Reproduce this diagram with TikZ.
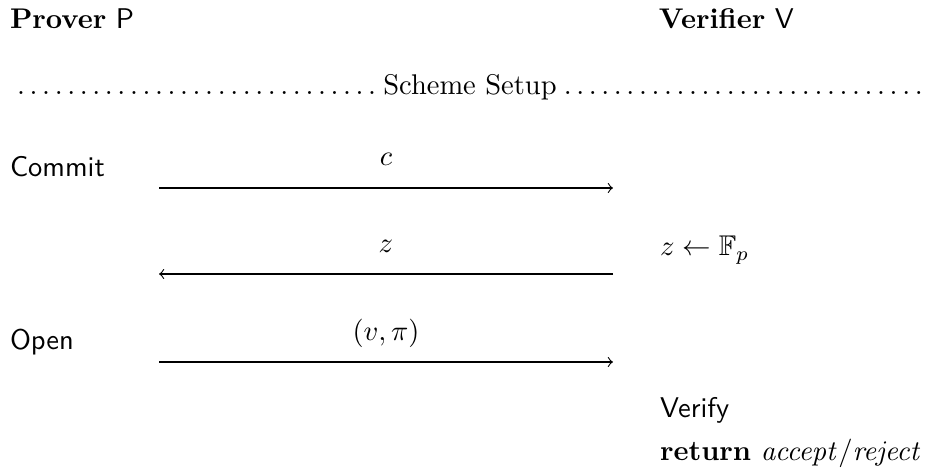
\documentclass[tikz,border=0pt]{standalone}
\usepackage{amsmath,amssymb}
\begin{document}
\begin{tikzpicture}[x=0.351pt,y=-0.351pt,
  txt/.style={inner sep=0pt,outer sep=0pt,anchor=base west},
  lbl/.style={inner sep=0pt,outer sep=0pt,anchor=base},
  msg/.style={->,line width=0.4pt}]
\useasboundingbox (0,0) rectangle (937,471);
\node[txt] (prover) at (10,29) {\textbf{Prover} $\mathsf{P}$};
\node[txt] (verifier) at (659,29) {\textbf{Verifier} $\mathsf{V}$};
\node[txt] (setup) at (10,95) {\makebox[322.9pt]{\dotfill Scheme Setup\dotfill}};
\node[txt] (commit) at (10,177) {\textsf{Commit}};
\node[txt] (open) at (10,350) {\textsf{Open}};
\coordinate (m1l) at (159,188);
\coordinate (m1r) at (613,188);
\coordinate (m2l) at (159,274);
\coordinate (m2r) at (613,274);
\coordinate (m3l) at (159,362);
\coordinate (m3r) at (613,362);
\draw[msg] (m1l) -- (m1r);
\draw[msg] (m2r) -- (m2l);
\draw[msg] (m3l) -- (m3r);
\node[lbl] (lc) at (386,166) {$c$};
\node[lbl] (lz) at (386,253) {$z$};
\node[lbl] (lvp) at (386,341) {$(v,\pi)$};
\node[txt] (sample) at (660,256) {$z \leftarrow \mathbb{F}_p$};
\node[txt] (verify) at (660,418) {\textsf{Verify}};
\node[txt] (ret) at (660,461) {$\textbf{return}\ \mathit{accept}/\mathit{reject}$};
\end{tikzpicture}
\end{document}
